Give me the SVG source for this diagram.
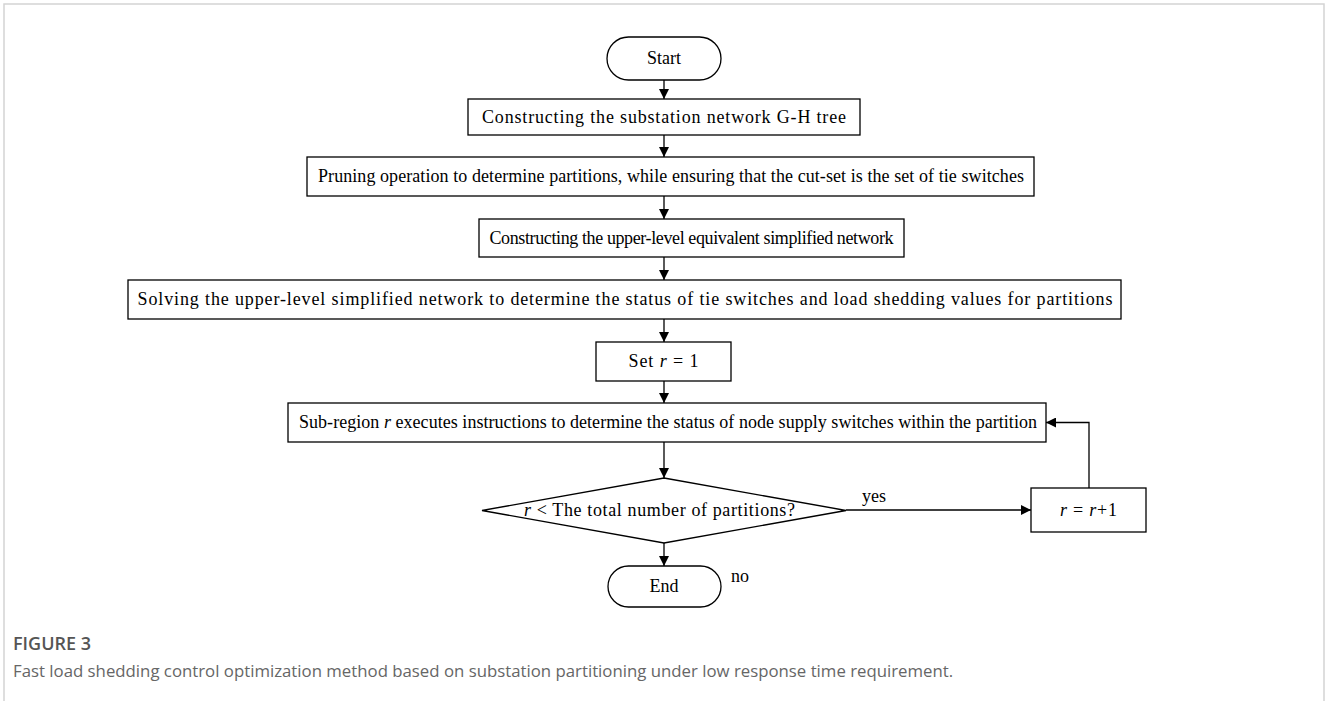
<svg xmlns="http://www.w3.org/2000/svg" width="1328" height="701" viewBox="0 0 1328 701">
  <defs>
    <marker id="arrow" viewBox="0 0 10 10" refX="10" refY="5" markerWidth="10" markerHeight="10" markerUnits="userSpaceOnUse" orient="auto">
      <path d="M0,0 L10,5 L0,10 Z" fill="#000"/>
    </marker>
    <style>
      .box { fill: #fff; stroke: #000; stroke-width: 1.3; }
      .lbl { font-family: "Liberation Serif", "Times New Roman", serif; font-size: 18px; fill: #000; text-anchor: middle; }
      .side { font-family: "Liberation Serif", "Times New Roman", serif; font-size: 18px; fill: #000; }
      .edge { fill: none; stroke: #000; stroke-width: 1.3; marker-end: url(#arrow); }
      .frame { fill: none; stroke: #d4d4d4; stroke-width: 1.5; }
      .cap-title { font-family: "Open Sans", "Noto Sans", sans-serif; font-size: 18px; font-weight: 600; fill: #555; }
      .cap-text { font-family: "Open Sans", "Noto Sans", sans-serif; font-size: 16.8px; fill: #666; }
    </style>
  </defs>

  <rect width="1328" height="701" fill="#fff"/>
  <!-- figure frame, open at the bottom -->
  <path class="frame" d="M4,701 V4 H1324 V701"/>

  <!-- connectors -->
  <g id="connectors">
    <line class="edge" x1="664" y1="80" x2="664" y2="99"/>
    <line class="edge" x1="664" y1="135" x2="664" y2="157"/>
    <line class="edge" x1="664" y1="196" x2="664" y2="219"/>
    <line class="edge" x1="664" y1="257" x2="664" y2="280"/>
    <line class="edge" x1="664" y1="319" x2="664" y2="342"/>
    <line class="edge" x1="664" y1="381" x2="664" y2="403"/>
    <line class="edge" x1="664" y1="442" x2="664" y2="478"/>
    <line class="edge" x1="664" y1="543" x2="664" y2="566"/>
    <line class="edge" x1="846" y1="510" x2="1031" y2="510"/>
    <polyline class="edge" points="1089,488 1089,422.5 1046,422.5"/>
    <text class="side" x="862" y="502">yes</text>
    <text class="side" x="731" y="582">no</text>
  </g>

  <g id="start">
    <rect class="box" x="607" y="37" width="114" height="43" rx="21.5" ry="21.5"/>
    <text class="lbl" x="664" y="64">Start</text>
  </g>

  <g id="build-tree">
    <rect class="box" x="468" y="99" width="392" height="36"/>
    <text class="lbl" x="664" y="123" textLength="364">Constructing the substation network G-H tree</text>
  </g>

  <g id="pruning">
    <rect class="box" x="307" y="157" width="727" height="39"/>
    <text class="lbl" x="671" y="182" textLength="706">Pruning operation to determine partitions, while ensuring that the cut-set is the set of tie switches</text>
  </g>

  <g id="upper-network">
    <rect class="box" x="479" y="219" width="425" height="38"/>
    <text class="lbl" x="691.5" y="244" textLength="404">Constructing the upper-level equivalent simplified network</text>
  </g>

  <g id="solve-upper">
    <rect class="box" x="128" y="280" width="993" height="39"/>
    <text class="lbl" x="625" y="305" textLength="975">Solving the upper-level simplified network to determine the status of tie switches and load shedding values for partitions</text>
  </g>

  <g id="set-r">
    <rect class="box" x="596" y="342" width="135" height="39"/>
    <text class="lbl" x="663.5" y="367" textLength="70">Set <tspan font-style="italic">r</tspan> = 1</text>
  </g>

  <g id="sub-region">
    <rect class="box" x="288" y="403" width="758" height="39"/>
    <text class="lbl" x="668" y="428" textLength="738">Sub-region <tspan font-style="italic">r</tspan> executes instructions to determine the status of node supply switches within the partition</text>
  </g>

  <g id="decision">
    <polygon class="box" points="664,478 846,510.5 664,543 482,510.5"/>
    <text class="lbl" x="659.5" y="516" textLength="271"><tspan font-style="italic">r</tspan> &lt; The total number of partitions?</text>
  </g>

  <g id="increment">
    <rect class="box" x="1031" y="488" width="115" height="44"/>
    <text class="lbl" x="1088.5" y="516" textLength="57"><tspan font-style="italic">r</tspan> = <tspan font-style="italic">r</tspan>+1</text>
  </g>

  <g id="end">
    <rect class="box" x="608" y="566" width="113" height="41" rx="20.5" ry="20.5"/>
    <text class="lbl" x="664" y="592">End</text>
  </g>

  <!-- caption -->
  <text class="cap-title" x="13" y="650">FIGURE 3</text>
  <text class="cap-text" x="13" y="677">Fast load shedding control optimization method based on substation partitioning under low response time requirement.</text>
</svg>
